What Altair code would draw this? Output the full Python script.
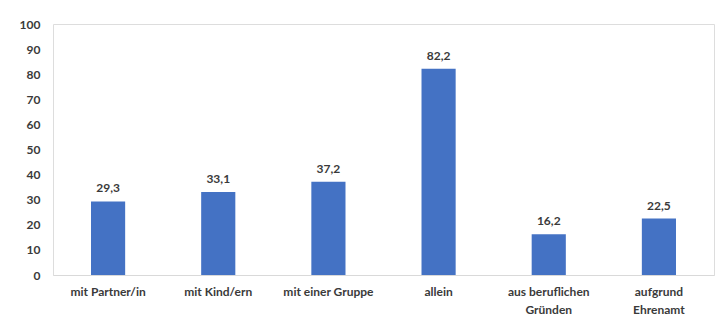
import altair as alt
import pandas as pd

categories = [
    "mit Partner/in",
    "mit Kind/ern",
    "mit einer Gruppe",
    "allein",
    "aus beruflichen\nGründen",
    "aufgrund\nEhrenamt",
]
values = [29.3, 33.1, 37.2, 82.2, 16.2, 22.5]
value_labels = ["29,3", "33,1", "37,2", "82,2", "16,2", "22,5"]
y_ticks = [0, 10, 20, 30, 40, 50, 60, 70, 80, 90, 100]

df = pd.DataFrame({"kategorie": categories, "wert": values, "label": value_labels})

FONT = "Lato"
TEXT = "#3a3a3a"

x = alt.X(
    "kategorie:N",
    sort=categories,
    title=None,
    scale=alt.Scale(paddingInner=0.69, paddingOuter=0.345),
    axis=alt.Axis(
        labelAngle=0,
        labelExpr="split(datum.label, '\\n')",
        labelFont=FONT,
        labelFontWeight="bold",
        labelFontSize=12,
        labelColor=TEXT,
        labelLineHeight=18,
        labelPadding=11,
        labelOverlap=False,
        ticks=False,
        domainColor="#d9d9d9",
        domainWidth=1,
    ),
)
y = alt.Y(
    "wert:Q",
    title=None,
    scale=alt.Scale(domain=[0, 100], nice=False),
    axis=alt.Axis(
        values=y_ticks,
        labelFont=FONT,
        labelFontWeight="bold",
        labelFontSize=12,
        labelColor=TEXT,
        labelPadding=13,
        labelOverlap=False,
        ticks=False,
        domain=False,
        grid=False,
    ),
)

base = alt.Chart(df).encode(x=x, y=y)

bars = base.mark_bar(color="#4472C4")

labels = base.mark_text(
    font=FONT, fontWeight="bold", fontSize=12, color=TEXT, baseline="bottom", dy=-6
).encode(text="label:N")

chart = (
    alt.layer(bars, labels)
    .properties(
        width=661,
        height=251,
        autosize=alt.AutoSizeParams(type="none"),
        padding={"left": 53, "top": 24, "right": 10, "bottom": 48},
    )
    .configure_view(stroke=None)
    .configure(background="white")
)

chart.save("out.html", embed_options={"renderer": "svg", "actions": False})
